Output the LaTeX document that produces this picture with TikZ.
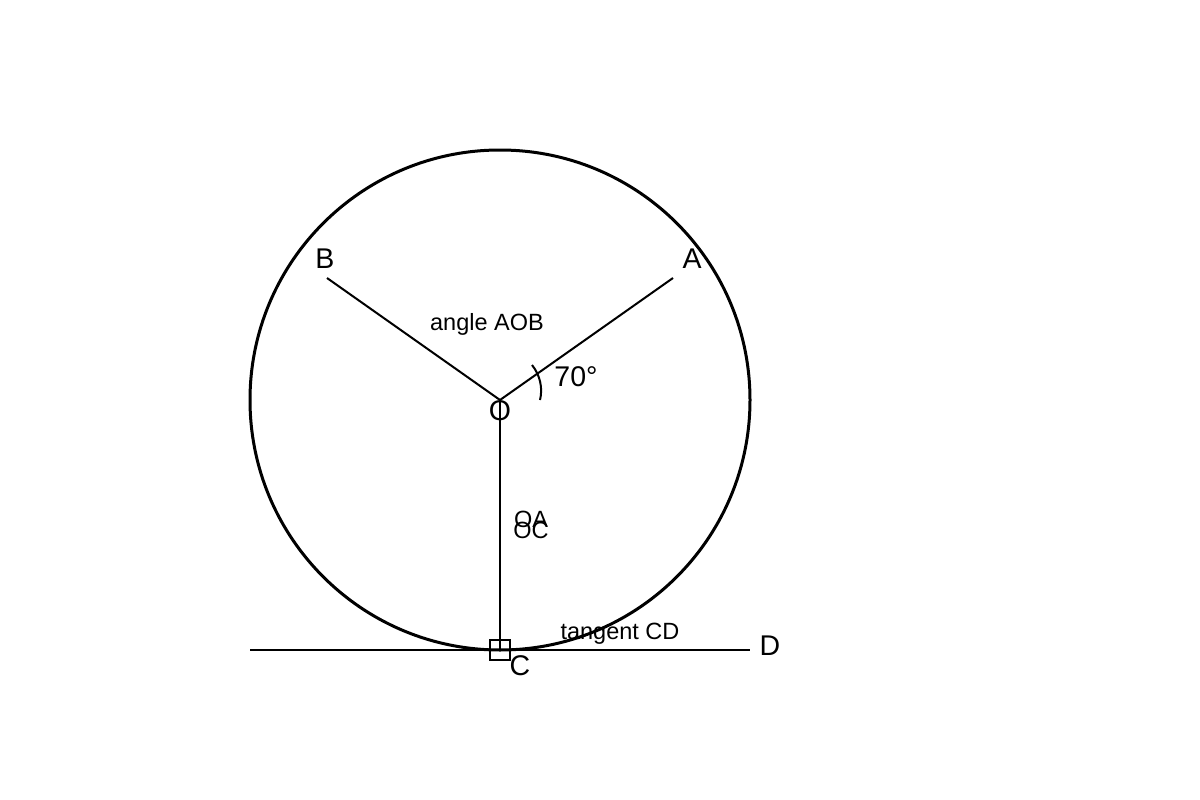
\documentclass[tikz,border=0pt]{standalone}
\usepackage{fontspec}
\setmainfont{Liberation Sans}
\begin{document}
\begin{tikzpicture}[x=1pt,y=-1pt,
  lbl/.style={inner sep=0pt,font=\fontsize{28.5}{32}\selectfont},
  small/.style={inner sep=0pt,font=\fontsize{23.5}{27}\selectfont},
  seg/.style={line width=2pt}]
\useasboundingbox (0,0) rectangle (1200,800);
\coordinate (O) at (500,400);
\coordinate (Ap) at (673,278);
\coordinate (Bp) at (327,278);
\coordinate (Cp) at (500,650);
\coordinate (L) at (250,650);
\coordinate (R) at (750,650);
\draw[line width=3pt] (O) circle[radius=250];
\draw[seg] (O) -- (Ap);
\draw[seg] (O) -- (Bp);
\draw[seg] (O) -- (Cp);
\draw[seg] (L) -- (R);
\draw[seg] (490,640) rectangle (510,660);
\draw[seg] (540,400) .. controls (543,388) and (540,375) .. (532,365);
\node[lbl] (B) at (325,259) {B};
\node[lbl] (A) at (692,259) {A};
\node[lbl] (Ol) at (500,411) {O};
\node[lbl] (C) at (520,666) {C};
\node[lbl] (D) at (770,646) {D};
\node[lbl] (ang) at (576,377) {70°};
\node[small] (aob) at (487,324) {angle AOB};
\node[small] (oa) at (531,519) {OA};
\node[small] (oc) at (531,530) {OC};
\node[small] (tcd) at (620,634) {tangent CD};
\end{tikzpicture}
\end{document}
